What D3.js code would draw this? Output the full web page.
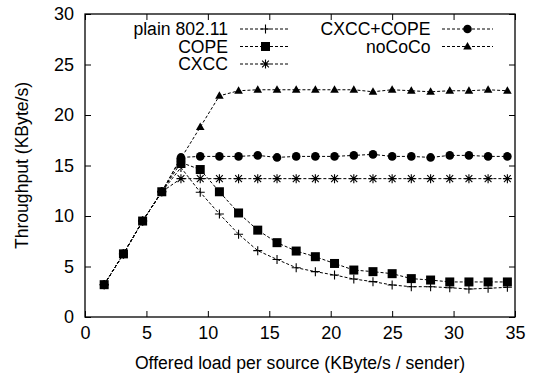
<!DOCTYPE html>
<html>
<head>
<meta charset="utf-8">
<script src="https://cdn.jsdelivr.net/npm/d3@7"></script>
<style>
  body { margin: 0; background: #fff; }
  text { font-family: "Liberation Sans", Arial, sans-serif; fill: #000; }
</style>
</head>
<body>
<div id="chart"></div>
<script>
// offered load per source (KByte/s / sender)
var load = [1.56, 3.13, 4.69, 6.25, 7.81, 9.38, 10.94, 12.5, 14.06, 15.63, 17.19,
            18.75, 20.31, 21.88, 23.44, 25, 26.56, 28.13, 29.69, 31.25, 32.81, 34.38];

// throughput (KByte/s)
var plain80211 = [3.2, 6.25, 9.5, 12.4, 14.8, 12.35, 10.2, 8.2, 6.57, 5.7, 4.88,
                  4.49, 4.16, 3.76, 3.5, 3.17, 3.0, 3.0, 2.9, 2.77, 2.84, 2.94];
var cope = [3.2, 6.25, 9.5, 12.4, 15.3, 14.6, 12.4, 10.3, 8.6, 7.36, 6.53,
            5.97, 5.3, 4.65, 4.49, 4.29, 3.8, 3.66, 3.47, 3.47, 3.47, 3.47];
var cxcc = [3.2, 6.25, 9.5, 12.4, 13.7, 13.7, 13.7, 13.7, 13.7, 13.7, 13.7,
            13.7, 13.7, 13.7, 13.7, 13.7, 13.7, 13.7, 13.7, 13.7, 13.7, 13.7];
var cxccCope = [3.2, 6.25, 9.5, 12.4, 15.8, 15.9, 15.9, 15.9, 16.0, 15.8, 15.9,
                15.9, 15.9, 16.0, 16.1, 15.9, 15.9, 15.8, 16.0, 16.0, 15.9, 15.9];
var noCoCo = [3.2, 6.25, 9.5, 12.4, 15.7, 18.8, 21.9, 22.4, 22.5, 22.5, 22.5,
              22.5, 22.5, 22.5, 22.3, 22.5, 22.4, 22.3, 22.4, 22.4, 22.5, 22.4];

var xTicks = [0, 5, 10, 15, 20, 25, 30, 35];
var yTicks = [0, 5, 10, 15, 20, 25, 30];

var series = [
  {name: "plain 802.11", values: plain80211, mark: "plus"},
  {name: "COPE", values: cope, mark: "square"},
  {name: "CXCC", values: cxcc, mark: "star"},
  {name: "CXCC+COPE", values: cxccCope, mark: "circle"},
  {name: "noCoCo", values: noCoCo, mark: "triangle"}
];

var W = 534, H = 377;
var plotL = 85, plotR = 515, plotT = 14, plotB = 317;

var svg = d3.select("#chart").append("svg")
  .attr("width", W).attr("height", H);

var x = d3.scaleLinear().domain([0, 35]).range([plotL, plotR]);
var y = d3.scaleLinear().domain([0, 30]).range([plotB, plotT]);

// axes with inward ticks, mirrored on top/right
var tickLen = 6;
svg.append("g")
  .attr("transform", "translate(0," + plotB + ")")
  .call(d3.axisBottom(x).tickValues(xTicks).tickSizeInner(-tickLen).tickSizeOuter(0).tickPadding(9))
  .call(g => g.select(".domain").remove());
svg.append("g")
  .attr("transform", "translate(0," + plotT + ")")
  .call(d3.axisTop(x).tickValues(xTicks).tickSizeInner(-tickLen).tickSizeOuter(0).tickFormat(""))
  .call(g => g.select(".domain").remove());
svg.append("g")
  .attr("transform", "translate(" + plotL + ",0)")
  .call(d3.axisLeft(y).tickValues(yTicks).tickSizeInner(-tickLen).tickSizeOuter(0).tickPadding(11))
  .call(g => g.select(".domain").remove());
svg.append("g")
  .attr("transform", "translate(" + plotR + ",0)")
  .call(d3.axisRight(y).tickValues(yTicks).tickSizeInner(-tickLen).tickSizeOuter(0).tickFormat(""))
  .call(g => g.select(".domain").remove());

svg.selectAll(".tick text").style("font-size", "18px").style("font-family", "Liberation Sans, Arial, sans-serif");
svg.selectAll(".tick line").attr("stroke", "#000");

svg.append("rect")
  .attr("x", plotL).attr("y", plotT)
  .attr("width", plotR - plotL).attr("height", plotB - plotT)
  .attr("fill", "none").attr("stroke", "#000").attr("stroke-width", 1.3);

// axis labels
svg.append("text")
  .attr("x", (plotL + plotR) / 2).attr("y", 369)
  .attr("text-anchor", "middle").style("font-size", "17.6px")
  .text("Offered load per source (KByte/s / sender)");
svg.append("text")
  .attr("transform", "translate(28," + ((plotT + plotB) / 2) + ") rotate(-90)")
  .attr("text-anchor", "middle").style("font-size", "17.6px")
  .text("Throughput (KByte/s)");

function drawMark(g, type) {
  if (type == "plus") {
    g.append("path").attr("d", "M-4.5,0H4.5M0,-4.5V4.5")
      .attr("stroke", "#000").attr("stroke-width", 1.1).attr("fill", "none");
  } else if (type == "square") {
    g.append("rect").attr("x", -4.5).attr("y", -4.5).attr("width", 9).attr("height", 9).attr("fill", "#000");
  } else if (type == "star") {
    g.append("path").attr("d", "M-4.5,0H4.5M0,-4.5V4.5M-3.4,-3.4L3.4,3.4M-3.4,3.4L3.4,-3.4")
      .attr("stroke", "#000").attr("stroke-width", 1.1).attr("fill", "none");
  } else if (type == "circle") {
    g.append("circle").attr("r", 4.3).attr("fill", "#000");
  } else if (type == "triangle") {
    g.append("path").attr("d", "M0,-4.5L4.3,3L-4.3,3Z").attr("fill", "#000");
  }
}

var line = d3.line()
  .x(function(d) { return x(d[0]); })
  .y(function(d) { return y(d[1]); });

series.forEach(function(s) {
  var pts = load.map(function(l, i) { return [l, s.values[i]]; });
  svg.append("path")
    .attr("d", line(pts))
    .attr("fill", "none")
    .attr("stroke", "#000")
    .attr("stroke-width", 1)
    .attr("stroke-dasharray", "3,2");
  pts.forEach(function(p) {
    var g = svg.append("g").attr("transform", "translate(" + x(p[0]) + "," + y(p[1]) + ")");
    drawMark(g, s.mark);
  });
});

// legend, two columns
var legendCols = [
  {textX: 228, lineX0: 240, lineX1: 290, markX: 265.5},
  {textX: 430.5, lineX0: 442, lineX1: 493, markX: 467.5}
];
var rowY = [29, 46.5, 64];
series.forEach(function(s, i) {
  var col = legendCols[i < 3 ? 0 : 1];
  var ry = rowY[i < 3 ? i : i - 3];
  svg.append("text")
    .attr("x", col.textX).attr("y", ry + 6.2)
    .attr("text-anchor", "end").style("font-size", "17.6px")
    .text(s.name);
  svg.append("line")
    .attr("x1", col.lineX0).attr("x2", col.lineX1)
    .attr("y1", ry).attr("y2", ry)
    .attr("stroke", "#000").attr("stroke-width", 1).attr("stroke-dasharray", "3,2");
  var g = svg.append("g").attr("transform", "translate(" + col.markX + "," + ry + ")");
  drawMark(g, s.mark);
});
</script>
</body>
</html>
